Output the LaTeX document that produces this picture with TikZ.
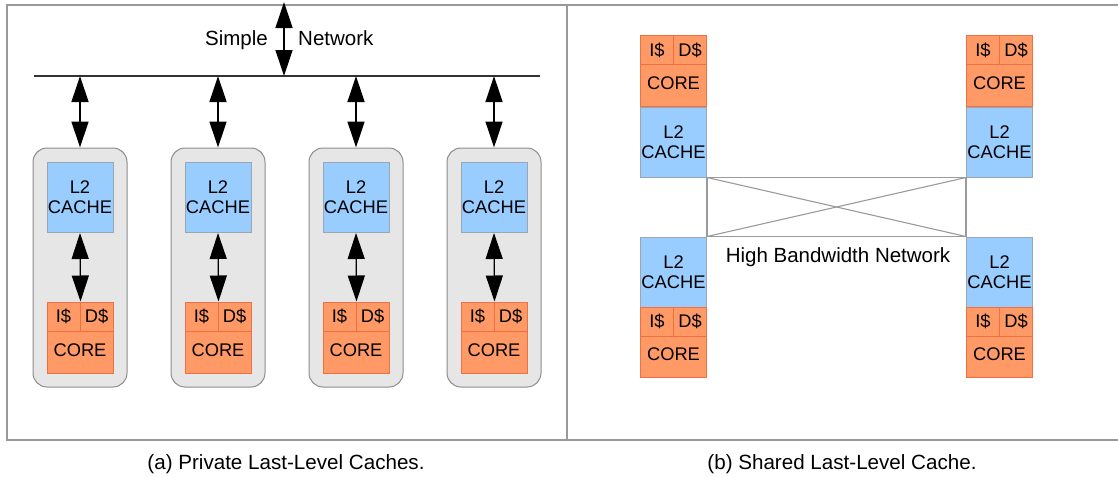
\documentclass[tikz,border=0pt]{standalone}
\usepackage{fontspec}
\setmainfont{Liberation Sans}
\usetikzlibrary{arrows.meta}
\definecolor{l2fill}{HTML}{99CCFF}
\definecolor{l2edge}{HTML}{9AA6B0}
\definecolor{corefill}{HTML}{FF9966}
\definecolor{coreedge}{HTML}{F0703F}
\definecolor{tilefill}{HTML}{E6E6E6}
\definecolor{tileedge}{HTML}{8C8C8C}
\definecolor{framegray}{HTML}{999999}
\definecolor{netgray}{HTML}{9A9A9A}

\tikzset{
  boxtext/.style={font=\fontsize{18.3}{20}\selectfont, align=center, inner sep=0pt},
  l2box/.style={boxtext, rectangle, draw=l2edge, fill=l2fill, line width=1pt,
                minimum width=66pt, minimum height=70pt},
  corebox/.style={boxtext, rectangle, draw=coreedge, fill=corefill, line width=1pt,
                  minimum width=66pt, minimum height=42pt, text height=13pt, text depth=5pt},
  halfbox/.style={boxtext, rectangle, draw=coreedge, fill=corefill, line width=1pt,
                  minimum width=33pt, minimum height=29pt},
  tile/.style={rectangle, draw=tileedge, fill=tilefill, rounded corners=14pt, line width=1pt,
               minimum width=94pt, minimum height=239pt},
  bigtip/.tip={Triangle[length=26pt 0 0,width=17pt 0 0]},
  link/.style={line width=1.3pt, bigtip-bigtip},
  bus/.style={line width=1.3pt, draw=black!80},
  net/.style={line width=1.1pt, draw=netgray},
  lbl/.style={font=\fontsize{20.5}{24}\selectfont, inner sep=0pt},
  caption/.style={font=\fontsize{20.6}{24}\selectfont, inner sep=0pt},
}

\begin{document}
\begin{tikzpicture}[x=1pt,y=-1pt]
\useasboundingbox (0,0) rectangle (1118,477);

% panel frames
\draw[framegray, line width=1.5pt] (1118,5) -- (7,5) -- (7,440) -- (1118,440);
\draw[framegray, line width=1.5pt] (567,5) -- (567,440);

% ---------- (a) private last-level caches ----------
\coordinate (busW) at (34,76);
\coordinate (busE) at (540,76);
\draw[bus] (busW) -- (busE);

\coordinate (ext) at (284,2);
\draw[link] (ext) -- (ext |- busW);
\node[lbl, anchor=base east] (simple) at (268,45) {Simple};
\node[lbl, anchor=base west] (network) at (298,45) {Network};

\foreach \i/\cx in {1/80,2/218,3/356,4/494} {
  \node[tile] (t\i) at (\cx,267.5) {};
  \node[l2box] (c\i) at (\cx,197.5) {L2\\CACHE};
  \node[corebox] (k\i) at (\cx,352) {CORE};
  \node[halfbox] (i\i) at (\cx-16.5,316.5) {I\$};
  \node[halfbox] (d\i) at (\cx+16.5,316.5) {D\$};
  \draw[link] (c\i.south) -- (i\i.north east);
  \draw[link] (t\i.north |- busW) -- (t\i.north);
}

\node[caption] (capa) at (286,464) {(a) Private Last-Level Caches.};

% ---------- (b) shared last-level cache ----------
% top row: core above its L2 slice
\foreach \n/\cx in {TL/673.5,TR/999.5} {
  \node[corebox] (\n k) at (\cx,85.5) {CORE};
  \node[halfbox] (\n i) at (\cx-16.5,50) {I\$};
  \node[halfbox] (\n d) at (\cx+16.5,50) {D\$};
  \node[l2box] (\n 2) at (\cx,142) {L2\\CACHE};
}
% bottom row: L2 slice above its core
\foreach \n/\cx in {BL/673.5,BR/999.5} {
  \node[l2box] (\n 2) at (\cx,272) {L2\\CACHE};
  \node[corebox] (\n k) at (\cx,356.5) {CORE};
  \node[halfbox] (\n i) at (\cx-16.5,321.5) {I\$};
  \node[halfbox] (\n d) at (\cx+16.5,321.5) {D\$};
}

\draw[net] (TL2.south east) -- (TR2.south west) -- (BR2.north west) -- (BL2.north east) -- cycle;
\draw[net] (TL2.south east) -- (BR2.north west);
\draw[net] (TR2.south west) -- (BL2.north east);

\node[lbl] (hbn) at (838,257) {High Bandwidth Network};

\node[caption] (capb) at (842,464) {(b) Shared Last-Level Cache.};
\end{tikzpicture}
\end{document}
